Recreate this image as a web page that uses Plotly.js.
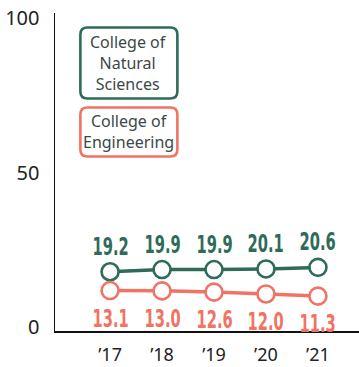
<!DOCTYPE html>
<html>
<head>
<meta charset="utf-8">
<script src="https://cdn.plot.ly/plotly-3.0.1.min.js"></script>
<style>html,body{margin:0;padding:0;background:#fff;}#chart{width:359px;height:367px;}</style>
</head>
<body>
<div id="chart"></div>
<script>
const years = ["’17", "’18", "’19", "’20", "’21"];
const naturalSciences = [19.2, 19.9, 19.9, 20.1, 20.6];
const engineering = [13.1, 13.0, 12.6, 12.0, 11.3];
const seriesNames = ["College of<br>Natural<br>Sciences", "College of<br>Engineering"];
const yTicks = [0, 50, 100];

const green = "#2f6b5a";
const red = "#f07364";
const xIdx = years.map((_, i) => i);
const labelFont = {family: "DejaVu Sans Condensed, DejaVu Sans, sans-serif", size: 24, weight: 700};

const traces = [
  {
    x: xIdx, y: naturalSciences, mode: "lines+markers", name: "ns",
    line: {color: green, width: 3.5},
    marker: {size: 17, color: "#fff", line: {color: green, width: 2.6}},
    hoverinfo: "none"
  },
  {
    x: xIdx, y: engineering, mode: "lines+markers", name: "en",
    line: {color: red, width: 3.5},
    marker: {size: 17, color: "#fff", line: {color: red, width: 2.6}},
    hoverinfo: "none"
  }
];

function roundedBox(w, h, r) {
  const x0 = -w/2, x1 = w/2, y0 = -h/2, y1 = h/2;
  return `M ${x0+r} ${y0} L ${x1-r} ${y0} Q ${x1} ${y0} ${x1} ${y0+r} L ${x1} ${y1-r} Q ${x1} ${y1} ${x1-r} ${y1} L ${x0+r} ${y1} Q ${x0} ${y1} ${x0} ${y1-r} L ${x0} ${y0+r} Q ${x0} ${y0} ${x0+r} ${y0} Z`;
}

const boxes = [
  {cx: 0.243, cy: 0.843, w: 97, h: 71, color: green, text: seriesNames[0]},
  {cx: 0.243, cy: 0.626, w: 97, h: 49, color: red, text: seriesNames[1]}
];

const dataLabels = [].concat(
  naturalSciences.map((v, i) => ({
    xref: "x", yref: "y", x: xIdx[i], y: v, yshift: 25, showarrow: false,
    xanchor: "center", yanchor: "middle", text: v.toFixed(1),
    font: Object.assign({color: green}, labelFont), captureevents: false
  })),
  engineering.map((v, i) => ({
    xref: "x", yref: "y", x: xIdx[i], y: v, yshift: -28, showarrow: false,
    xanchor: "center", yanchor: "middle", text: v.toFixed(1),
    font: Object.assign({color: red}, labelFont), captureevents: false
  }))
);

const layout = {
  width: 359, height: 367,
  margin: {l: 55, r: 0, t: 13, b: 36},
  paper_bgcolor: "#fff", plot_bgcolor: "#fff",
  showlegend: false,
  xaxis: {
    range: [-1.06, 4.79], tickvals: xIdx, ticktext: years,
    showgrid: false, zeroline: false, showline: true, linecolor: "#111", linewidth: 1.5,
    ticks: "", tickfont: {family: "Noto Sans, sans-serif", size: 18, color: "#222"},
    ticklabelstandoff: 7, fixedrange: true
  },
  yaxis: {
    range: [0, 103], tickvals: yTicks,
    showgrid: false, zeroline: false, showline: true, linecolor: "#111", linewidth: 1.5,
    ticks: "", tickfont: {family: "Noto Sans, sans-serif", size: 20, color: "#222"},
    ticklabelstandoff: 10, ticklabelshift: -4, fixedrange: true
  },
  shapes: boxes.map(b => ({
    type: "path", xref: "paper", yref: "paper", xsizemode: "pixel", ysizemode: "pixel",
    xanchor: b.cx, yanchor: b.cy, path: roundedBox(b.w, b.h, 7),
    line: {color: b.color, width: 2.6}, fillcolor: "rgba(0,0,0,0)"
  })),
  annotations: boxes.map(b => ({
    xref: "paper", yref: "paper", x: b.cx, y: b.cy, xanchor: "center", yanchor: "middle",
    text: b.text, showarrow: false, align: "center",
    font: {family: "Noto Sans, sans-serif", size: 16, color: "#3b4848"}
  })).concat(dataLabels)
};

Plotly.newPlot("chart", traces, layout, {displayModeBar: false, staticPlot: true}).then(gd => {
  gd.querySelectorAll(".annotation-text").forEach(t => {
    if (/^\d+\.\d$/.test(t.textContent)) {
      t.style.transformBox = "fill-box";
      t.style.transformOrigin = "center";
      t.style.transform = "scaleX(0.68)";
    }
  });
});
</script>
</body>
</html>
